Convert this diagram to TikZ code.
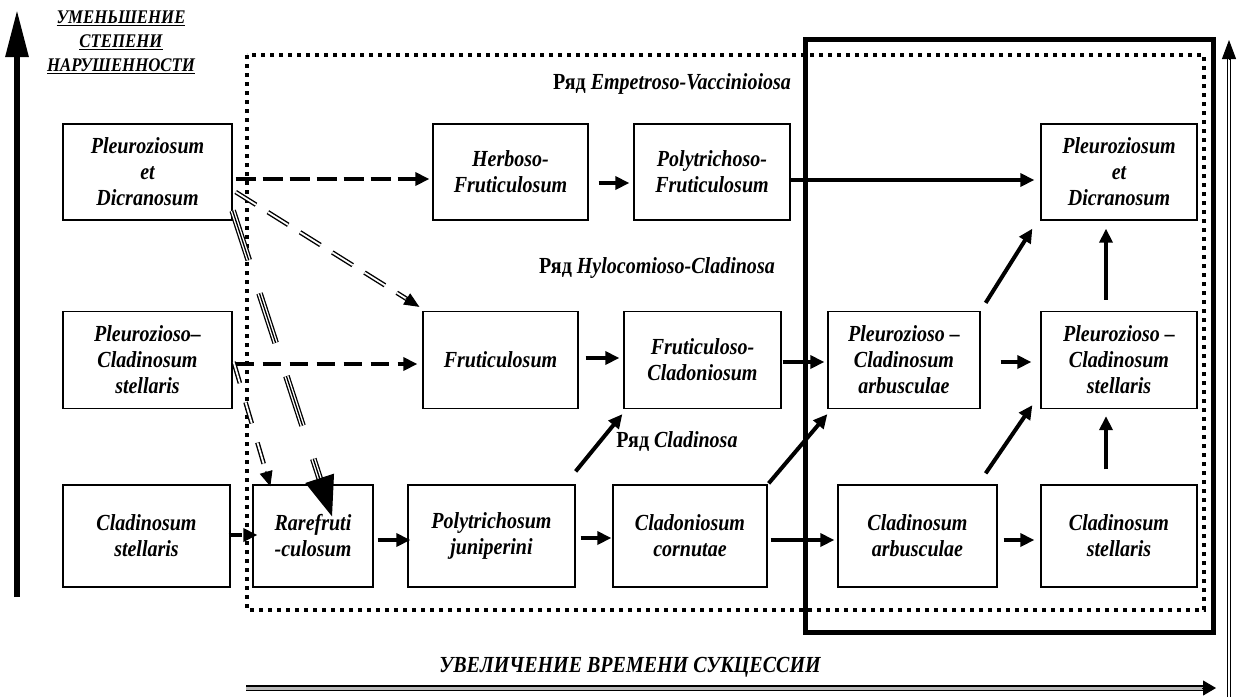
\documentclass[tikz,border=0pt]{standalone}
\usepackage{fontspec}
\setmainfont{Liberation Serif}[FakeStretch=0.87]
\usetikzlibrary{arrows.meta,calc}
\tikzset{
  veg_box/.style = {draw=black, line width=1.3pt, inner sep=0pt, align=center,
    font=\bfseries\itshape\fontsize{23}{26}\selectfont},
  ser_lbl/.style = {inner sep=0pt, font=\bfseries\fontsize{23}{26}\selectfont},
  ax_lbl/.style = {inner sep=0pt, align=center,
    font=\bfseries\itshape\fontsize{19.3}{24}\selectfont},
  arr_s/.style = {line width=4pt, -{Triangle[length=14pt,width=13pt]}},
  arr_d/.style = {arr_s, dash pattern=on 20pt off 7pt},
  dbl_ln/.style = {draw=black, double=white, line width=1.4pt, double distance=1.8pt},
  arr_hd/.style = {line width=1pt, -{Triangle[length=15pt,width=13pt]}}}

\begin{document}
\begin{tikzpicture}[x=1pt,y=-1pt]
\useasboundingbox (0,0) rectangle (1245,697);

% frames
\draw[line width=4pt, dash pattern=on 4pt off 5pt] (247,55) rectangle (1204,610);
\draw[line width=5pt] (805,39) rectangle (1213,632);

% row 1
\node[veg_box, minimum width=169, minimum height=96] (pd_l) at (147.5,172) {Pleuroziosum\\et\\Dicranosum};
\node[veg_box, minimum width=155, minimum height=96] (herb) at (510.5,172) {Herboso-\\Fruticulosum};
\node[veg_box, minimum width=156, minimum height=96] (polyf) at (712,172) {Polytrichoso-\\Fruticulosum};
\node[veg_box, minimum width=156, minimum height=96] (pd_r) at (1119,172) {Pleuroziosum\\et\\Dicranosum};
% row 2
\node[veg_box, minimum width=169, minimum height=97] (ps_l) at (147.5,360) {Pleurozioso–\\Cladinosum\\stellaris};
\node[veg_box, minimum width=155, minimum height=97] (frut) at (500.5,360) {Fruticulosum};
\node[veg_box, minimum width=157, minimum height=97] (fcl) at (702.5,360) {Fruticuloso-\\Cladoniosum};
\node[veg_box, minimum width=152, minimum height=97] (pa) at (904,360) {Pleurozioso –\\Cladinosum\\arbusculae};
\node[veg_box, minimum width=156, minimum height=97] (ps_r) at (1119,360) {Pleurozioso –\\Cladinosum\\stellaris};
% row 3
\node[veg_box, minimum width=167, minimum height=102] (cs_l) at (146.5,536) {Cladinosum\\stellaris};
\node[veg_box, minimum width=120, minimum height=102] (rare) at (313,536) {Rarefruti\\-culosum};
\node[veg_box, minimum width=167, minimum height=102] (polyj) at (491.5,536) {Polytrichosum\\juniperini};
\node[veg_box, minimum width=154, minimum height=102] (ccor) at (690,536) {Cladoniosum\\cornutae};
\node[veg_box, minimum width=159, minimum height=102] (carb) at (917.5,536) {Cladinosum\\arbusculae};
\node[veg_box, minimum width=156, minimum height=102] (cs_r) at (1119,536) {Cladinosum\\stellaris};

% series labels
\node[ser_lbl] (ser_ev) at (672,84) {Ряд \textit{Empetroso-Vaccinioiosa}};
\node[ser_lbl] (ser_hc) at (657,268) {Ряд \textit{Hylocomioso-Cladinosa}};
\node[ser_lbl] (ser_cl) at (677,442) {Ряд \textit{Cladinosa}};

% axes
\node[ax_lbl] (ax_dist) at (121,42) {\underline{УМЕНЬШЕНИЕ}\\\underline{СТЕПЕНИ}\\\underline{НАРУШЕННОСТИ}};
\node[ax_lbl, font=\bfseries\itshape\fontsize{23}{26}\selectfont] (ax_time) at (630,667) {УВЕЛИЧЕНИЕ ВРЕМЕНИ СУКЦЕССИИ};
\coordinate (ax_y0) at (17,597);
\coordinate (ax_y1) at (17,10);
\draw[line width=6pt, -{Triangle[length=47pt,width=22pt]}] (ax_y0) -- (ax_y1);
\coordinate (tm_b0) at (246,688);
\coordinate (tm_b1) at (1216,688);
\draw[draw=black, double=gray!55, line width=1.8pt, double distance=3pt, shorten >=12pt] (tm_b0) -- (tm_b1);
\draw[line width=1pt, -{Triangle[length=13pt,width=15pt]}] ($(tm_b1)!14pt!(tm_b0)$) -- (tm_b1);
\coordinate (tm_r0) at (1229,697);
\coordinate (tm_r1) at (1229,40);
\draw[dbl_ln, line width=1.1pt, double distance=2.5pt, shorten >=17pt] (tm_r0) -- (tm_r1);
\draw[line width=1pt, -{Triangle[length=19pt,width=14pt]}] ($(tm_r1)!20pt!(tm_r0)$) -- (tm_r1);

% row 1 arrows
\draw[arr_d] ($(pd_l.east)+(3,7)$) -- ($(herb.west)+(-3,7)$);
\draw[arr_s] ($(herb.east)+(10,11)$) -- ($(polyf.west)+(-4,11)$);
\draw[arr_s] ($(polyf.east)+(0,8)$) -- ($(pd_r.west)+(-6,8)$);
% row 2 arrows
\draw[arr_d, dash pattern=on 18pt off 9pt] ($(ps_l.east)+(3,4)$) -- ($(frut.west)+(-5,4)$);
\draw[arr_s] ($(frut.east)+(7,-2)$) -- ($(fcl.west)+(-4,-2)$);
\draw[arr_s] ($(fcl.east)+(1,2)$) -- ($(pa.west)+(-3,2)$);
\draw[arr_s] ($(pa.east)+(20,2)$) -- ($(ps_r.west)+(-9,2)$);
\draw[arr_s] ($(ps_r.north)+(-13,-11)$) -- ($(pd_r.south)+(-13,8)$);
\draw[arr_s] ($(pa.north east)+(5,-8)$) -- ($(pd_r.south west)+(-8,8)$);
% row 3 arrows
\draw[arr_d, dash pattern=on 13pt off 8pt] ($(cs_l.east)+(-2,-1)$) -- ($(rare.west)+(5,-1)$);
\draw[arr_s] ($(rare.east)+(4,4)$) -- ($(polyj.west)+(3,4)$);
\draw[arr_s] ($(polyj.east)+(5,2)$) -- ($(ccor.west)+(-1,2)$);
\draw[arr_s] ($(ccor.east)+(3,4)$) -- ($(carb.west)+(-3,4)$);
\draw[arr_s] ($(carb.east)+(6,4)$) -- ($(cs_r.west)+(-6,4)$);
\draw[arr_s] ($(cs_r.north)+(-13,-15)$) -- ($(ps_r.south)+(-13,7)$);
\draw[arr_s] ($(carb.north east)+(-12,-11)$) -- ($(ps_r.south west)+(-8,-4)$);
\draw[arr_s] ($(polyj.north east)+(0,-13)$) -- ($(fcl.south west)+(-1,5)$);
\draw[arr_s] ($(ccor.north east)+(1,-1)$) -- ($(pa.south west)+(0,5)$);

% double and triple lines
\coordinate (f_s) at ($(pd_l.east)+(3,20)$);
\coordinate (f_e) at ($(frut.north west)+(-3,-4)$);
\draw[dbl_ln, dash pattern=on 24pt off 14pt, shorten >=14pt] (f_s) -- (f_e);
\draw[arr_hd] ($(f_e)!16pt!(f_s)$) -- (f_e);
\coordinate (r_s) at ($(ps_l.east)+(1,2)$);
\coordinate (r_e) at ($(rare.north west)+(18,2)$);
\draw[dbl_ln, dash pattern=on 22pt off 20pt, shorten >=14pt] (r_s) -- (r_e);
\draw[arr_hd] ($(r_e)!16pt!(r_s)$) -- (r_e);
\coordinate (t_s) at ($(pd_l.south east)+(0,-10)$);
\coordinate (t_e) at ($(rare.north)+(19,32)$);
\draw[dbl_ln, line width=1.3pt, double distance=4pt, dash pattern=on 52pt off 35pt, shorten >=38pt] (t_s) -- (t_e);
\draw[line width=1.3pt, dash pattern=on 52pt off 35pt, shorten >=38pt] (t_s) -- (t_e);
\draw[line width=1pt, -{Triangle[length=40pt,width=30pt]}] ($(t_e)!42pt!(t_s)$) -- (t_e);
\end{tikzpicture}
\end{document}
